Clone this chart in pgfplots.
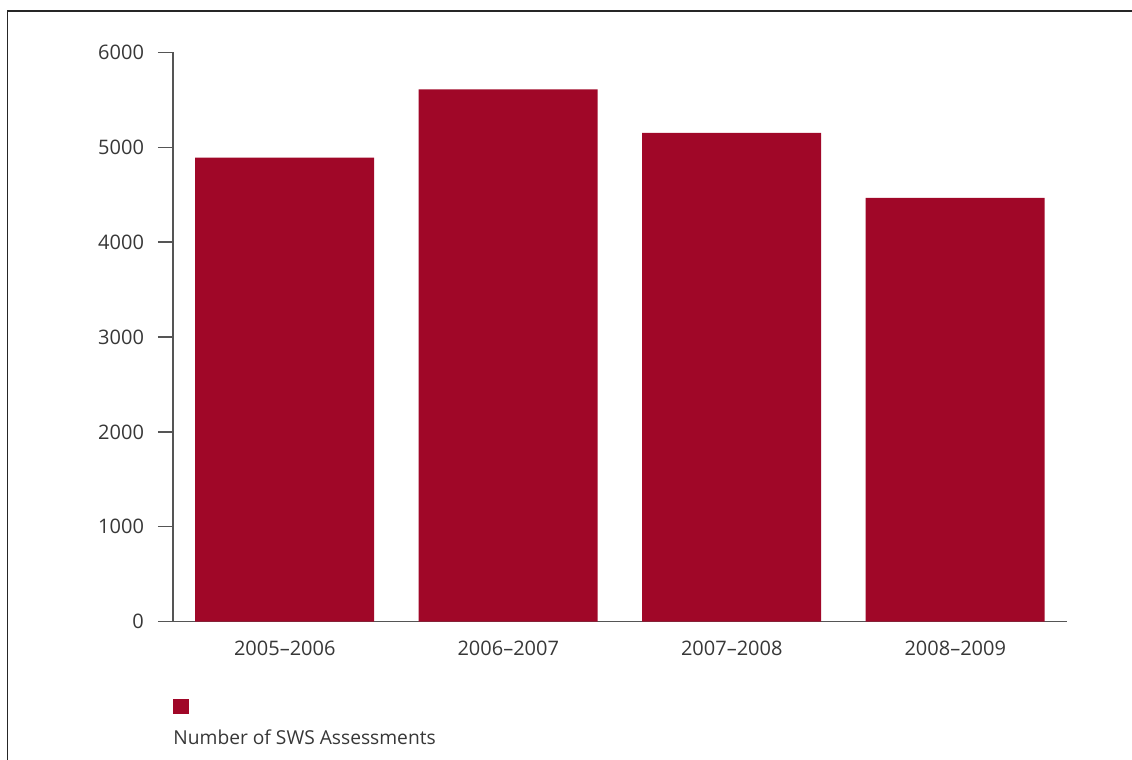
\documentclass[border=0pt]{standalone}
\usepackage{fontspec}
\setmainfont{Open Sans}
\usepackage{pgfplots}
\pgfplotsset{compat=1.18}
\definecolor{barred}{RGB}{160,7,40}
\definecolor{txt}{RGB}{55,55,55}
\definecolor{axgray}{RGB}{85,85,85}
\begin{document}
\begin{tikzpicture}[x=1pt,y=1pt]
\useasboundingbox (-86.5,-69.15) rectangle (479.5,310.85);
\draw[line width=0.6pt, black!85] (-82.75,-69.15) -- (-82.75,305.35) -- (479.5,305.35);
\begin{axis}[
  at={(0,0)}, anchor=south west,
  scale only axis, width=447pt, height=284.7pt,
  xmin=-0.5, xmax=3.5, ymin=0, ymax=6000,
  axis lines*=left,
  axis line style={axgray, line width=0.7pt},
  ytick={0,1000,2000,3000,4000,5000,6000},
  tick align=outside,
  major tick length=7.5pt,
  ytick style={axgray, line width=0.7pt},
  xtick={0,1,2,3},
  xticklabels={2005--2006,2006--2007,2007--2008,2008--2009},
  xtick style={draw=none},
  /pgf/number format/assume math mode=true,
  /pgf/number format/1000 sep={},
  tick label style={font=\fontsize{10}{12}\selectfont, text=txt},
  yticklabel style={xshift=-3.5pt},
  xticklabel style={yshift=1.5pt},
  clip=false,
]
\addplot[ybar, bar width=89.5pt, fill=barred, draw=none] coordinates {
  (0,4890) (1,5610) (2,5150) (3,4465)
};
\end{axis}
\fill[barred] (0,-38.65) rectangle (8,-46.15);
\node[anchor=base west, inner sep=0pt, text=txt, font=\fontsize{9.6}{12}\selectfont] at (0,-61.3) {Number of SWS Assessments};
\end{tikzpicture}
\end{document}
